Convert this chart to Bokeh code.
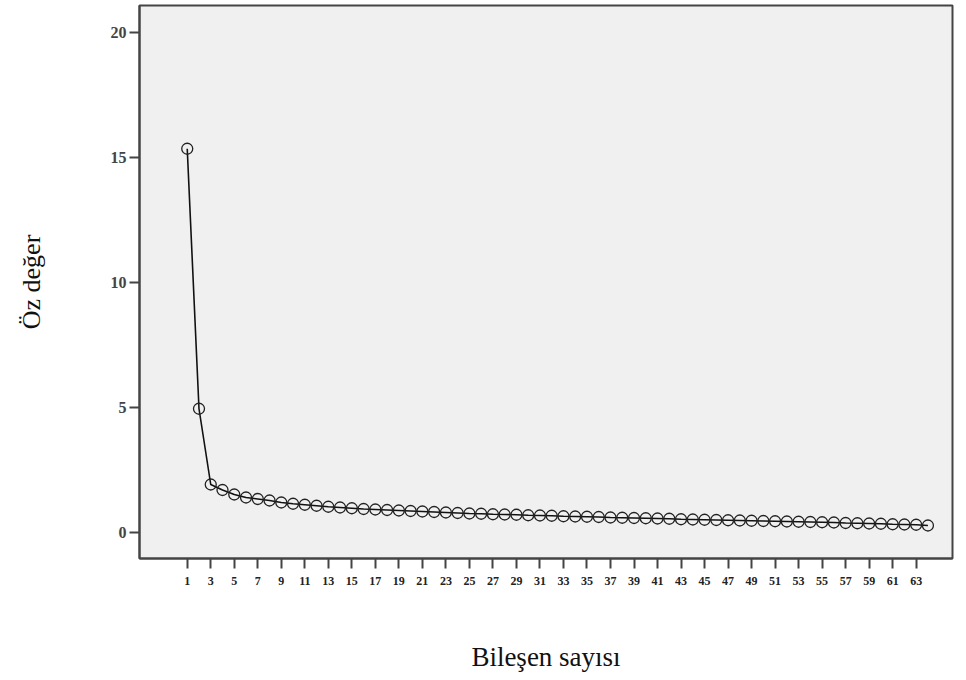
from bokeh.plotting import figure
from bokeh.models import Range1d, FixedTicker, ColumnDataSource
from bokeh.embed import file_html
from bokeh.resources import INLINE

components = list(range(1, 65))
eigenvalues = [
    15.35, 4.95, 1.92, 1.70, 1.52, 1.40, 1.34, 1.28, 1.20, 1.15,
    1.11, 1.07, 1.03, 1.00, 0.97, 0.94, 0.92, 0.90, 0.88, 0.86,
    0.84, 0.82, 0.80, 0.78, 0.76, 0.75, 0.73, 0.72, 0.71, 0.69,
    0.68, 0.67, 0.65, 0.64, 0.63, 0.62, 0.60, 0.59, 0.58, 0.57,
    0.56, 0.55, 0.53, 0.52, 0.51, 0.50, 0.49, 0.48, 0.47, 0.46,
    0.45, 0.44, 0.43, 0.42, 0.41, 0.40, 0.38, 0.37, 0.36, 0.35,
    0.33, 0.32, 0.31, 0.28,
]
x_ticks = list(range(1, 64, 2))
y_ticks = [0, 5, 10, 15, 20]
x_title = "Bileşen sayısı"
y_title = "Öz değer"

src = ColumnDataSource(data=dict(x=components, y=eigenvalues))

p = figure(width=958, height=678, output_backend="svg", toolbar_location=None,
           x_range=Range1d(-3.06, 66.09), y_range=Range1d(-1.04, 21.08),
           min_border_left=139, min_border_right=6, min_border_top=5,
           min_border_bottom=120)

p.background_fill_color = "#f0f0f0"
p.border_fill_color = "white"
p.outline_line_color = "#444444"
p.outline_line_width = 2
p.xgrid.visible = False
p.ygrid.visible = False

p.line("x", "y", source=src, line_color="#111111", line_width=1.6)
p.scatter("x", "y", source=src, marker="circle", size=11, fill_color=None,
          line_color="#222222", line_width=1.3)

p.xaxis.ticker = FixedTicker(ticks=x_ticks)
p.yaxis.ticker = FixedTicker(ticks=y_ticks)
p.xaxis.minor_tick_line_color = None
p.yaxis.minor_tick_line_color = None

for ax in (p.xaxis, p.yaxis):
    ax.axis_line_color = "#444444"
    ax.axis_line_width = 2
    ax.major_tick_line_color = "#444444"
    ax.major_tick_line_width = 2
    ax.major_tick_out = 10
    ax.major_tick_in = 0
    ax.axis_label_text_font = "Liberation Serif"
    ax.axis_label_text_font_style = "normal"
    ax.axis_label_text_color = "#111111"
    ax.major_label_text_font = "Liberation Serif"

p.xaxis.major_label_text_font_size = "12px"
p.xaxis.major_label_text_font_style = "bold"
p.xaxis.major_label_text_color = "#222222"
p.xaxis.major_label_standoff = 8
p.xaxis.axis_label = x_title
p.xaxis.axis_label_text_font_size = "27px"
p.xaxis.axis_label_standoff = 54

p.yaxis.major_label_text_font_size = "16px"
p.yaxis.major_label_text_font_style = "bold"
p.yaxis.major_label_text_color = "#444444"
p.yaxis.major_label_standoff = 3
p.yaxis.axis_label = y_title
p.yaxis.axis_label_text_font_size = "26px"
p.yaxis.axis_label_standoff = 62

open("out.html", "w").write(file_html(p, INLINE))
